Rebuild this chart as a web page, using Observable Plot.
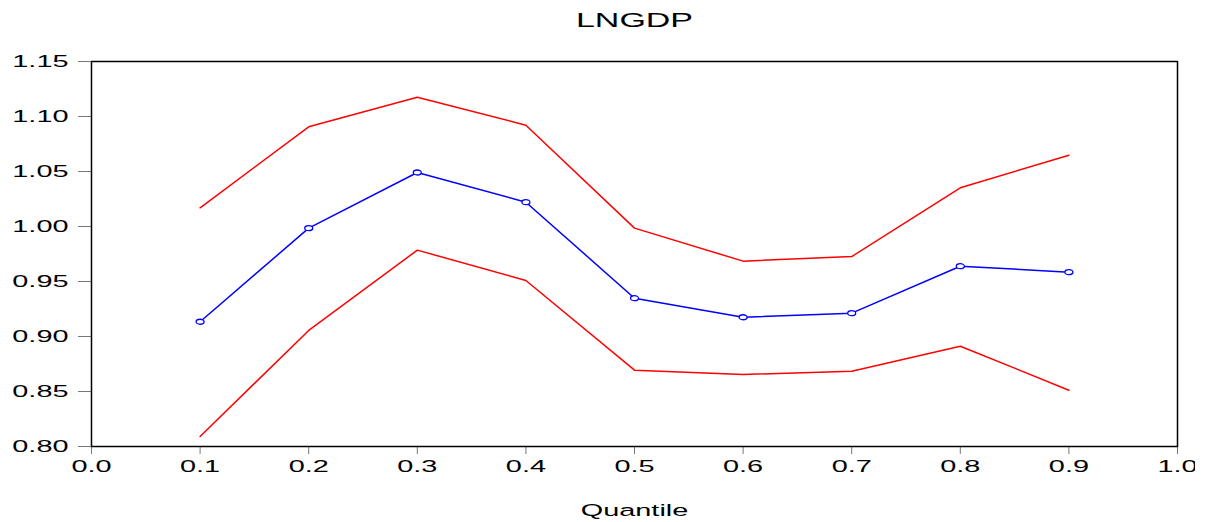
<!DOCTYPE html>
<html>
<head>
<meta charset="utf-8">
<script src="https://cdn.jsdelivr.net/npm/d3@7"></script>
<script src="https://cdn.jsdelivr.net/npm/@observablehq/plot@0.6"></script>
<style>
  html, body { margin: 0; padding: 0; background: #fff; }
  #wrap { position: relative; width: 1208px; height: 522px; }
  #chart svg { display: block; }
  #crop { position: absolute; left: 1195px; top: 448px; width: 13px; height: 40px; background: #fff; }
</style>
</head>
<body>
<div id="wrap"><div id="chart"></div><div id="crop"></div></div>
<script>
const title = "LNGDP";
const xLabel = "Quantile";
const quantiles = [0.1, 0.2, 0.3, 0.4, 0.5, 0.6, 0.7, 0.8, 0.9];
const coef  = [0.9134, 0.9985, 1.0491, 1.0221, 0.9348, 0.9175, 0.9212, 0.9639, 0.9585];
const upper = [1.0170, 1.0906, 1.1175, 1.0921, 0.9985, 0.9685, 0.9727, 1.0352, 1.0648];
const lower = [0.8091, 0.9055, 0.9785, 0.9509, 0.8694, 0.8655, 0.8685, 0.8912, 0.8512];
const xTicks = [0.0, 0.1, 0.2, 0.3, 0.4, 0.5, 0.6, 0.7, 0.8, 0.9, 1.0];
const yTicks = [0.80, 0.85, 0.90, 0.95, 1.00, 1.05, 1.10, 1.15];

const rows = quantiles.map((q, i) => ({q, coef: coef[i], upper: upper[i], lower: lower[i]}));

// small horizontally-stretched open marker, as in the original export
const ellipseSymbol = {
  draw(ctx) {
    const rx = 4, ry = 2.5, k = 0.5523;
    ctx.moveTo(rx, 0);
    ctx.bezierCurveTo(rx, ry * k, rx * k, ry, 0, ry);
    ctx.bezierCurveTo(-rx * k, ry, -rx, ry * k, -rx, 0);
    ctx.bezierCurveTo(-rx, -ry * k, -rx * k, -ry, 0, -ry);
    ctx.bezierCurveTo(rx * k, -ry, rx, -ry * k, rx, 0);
    ctx.closePath();
  }
};

const chart = Plot.plot({
  width: 1208,
  height: 522,
  marginLeft: 91,
  marginRight: 31,
  marginTop: 61,
  marginBottom: 76,
  style: {fontFamily: "'Liberation Sans', Arial, sans-serif", fontSize: "17px", color: "black", background: "white"},
  x: {domain: [0, 1]},
  y: {domain: [0.80, 1.15]},
  marks: [
    Plot.axisY({ticks: yTicks, tickSize: 13, tickPadding: 10, tickFormat: d => d.toFixed(2), stroke: "#777", fill: "black", label: null}),
    Plot.axisX({ticks: xTicks, tickSize: 8, tickPadding: 5, tickFormat: d => d.toFixed(1), stroke: "#777", fill: "black", label: null}),
    Plot.line(rows, {x: "q", y: "upper", stroke: "#ff0000", strokeWidth: 1.5}),
    Plot.line(rows, {x: "q", y: "lower", stroke: "#ff0000", strokeWidth: 1.5}),
    Plot.line(rows, {x: "q", y: "coef", stroke: "#0000ff", strokeWidth: 1.5}),
    Plot.dot(rows, {x: "q", y: "coef", symbol: ellipseSymbol, stroke: "#0000ff", fill: "white", strokeWidth: 1.3}),
    Plot.frame({stroke: "black", strokeWidth: 1.5}),
    Plot.text([title], {frameAnchor: "top", lineAnchor: "middle", dy: -41, fontSize: 20, fill: "black"}),
    Plot.text([xLabel], {frameAnchor: "bottom", lineAnchor: "middle", dy: 64, fontSize: 17, fill: "black"})
  ]
});

// Emulate the horizontally stretched lettering of the original export
chart.querySelectorAll("text").forEach(t => {
  const s = 1.7;
  const tr = t.getAttribute("transform");
  if (tr) {
    t.setAttribute("transform", tr + ` scale(${s},1)`);
  } else {
    const x = +(t.getAttribute("x") || 0);
    const y = +(t.getAttribute("y") || 0);
    t.removeAttribute("x"); t.removeAttribute("y");
    t.setAttribute("transform", `translate(${x},${y}) scale(${s},1)`);
  }
});

document.getElementById("chart").appendChild(chart);
</script>
</body>
</html>
